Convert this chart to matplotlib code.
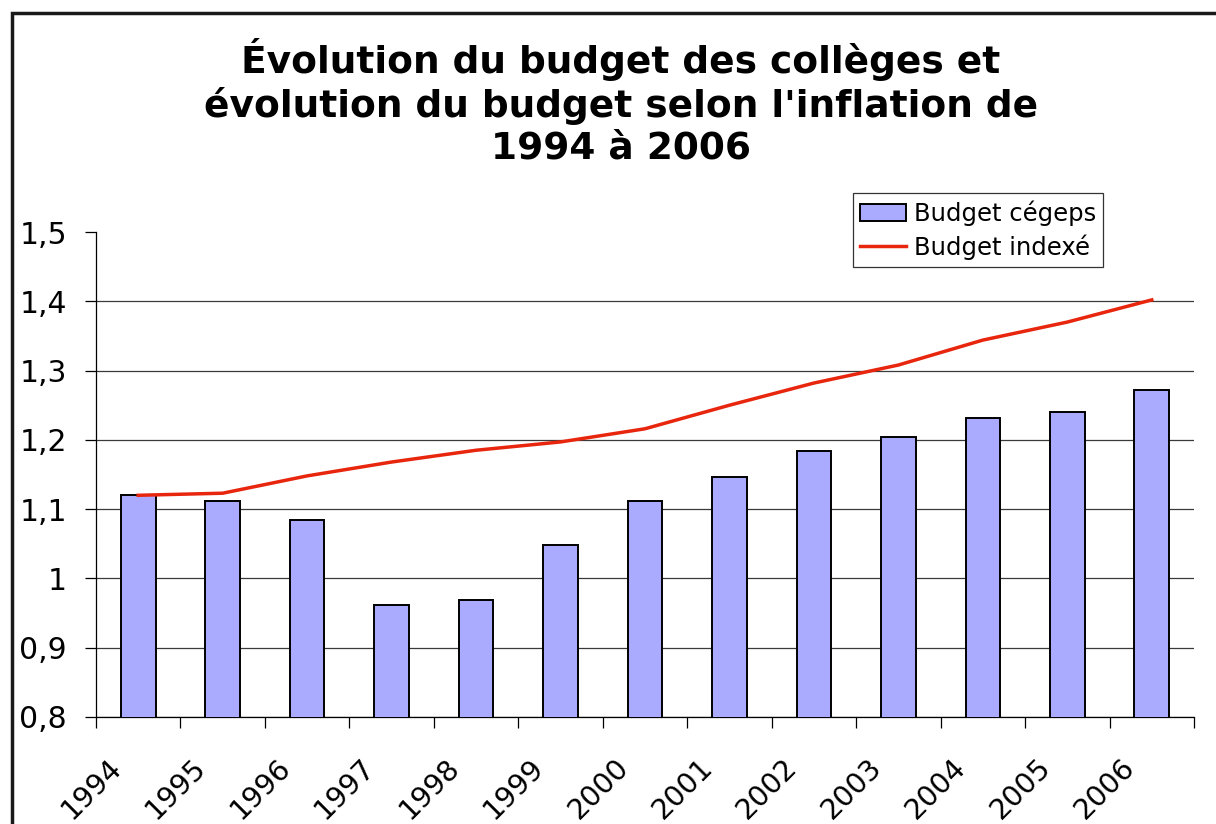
import matplotlib.pyplot as plt
import numpy as np
from matplotlib.ticker import FixedLocator, FuncFormatter
from matplotlib.patches import Rectangle
import matplotlib.transforms as mtransforms

years = ['1994', '1995', '1996', '1997', '1998', '1999', '2000',
         '2001', '2002', '2003', '2004', '2005', '2006']
budget_cegeps = [1.120, 1.112, 1.084, 0.962, 0.969, 1.048, 1.112,
                 1.146, 1.184, 1.204, 1.232, 1.240, 1.272]
budget_indexe = [1.120, 1.123, 1.148, 1.168, 1.185, 1.197, 1.216,
                 1.250, 1.282, 1.308, 1.344, 1.370, 1.402]
y_ticks = [0.8, 0.9, 1.0, 1.1, 1.2, 1.3, 1.4, 1.5]

plt.rcParams['font.family'] = 'DejaVu Sans'

fig = plt.figure(figsize=(12.16, 8.24), dpi=100)
ax = fig.add_axes([96/1216, 1 - 717/824, 1098/1216, 485/824])

# frame of the chart object (only top and left visible in the crop)
fig.patches.append(Rectangle((12/1216, -0.1), 1.2, 1 - 13/824 + 0.1,
                             transform=fig.transFigure, fill=False,
                             edgecolor='#1a1a1a', linewidth=2.5))

x = np.arange(len(years))
bars = ax.bar(x, budget_cegeps, width=0.41, bottom=0, color='#aaaaff',
              edgecolor='black', linewidth=1.4, label='Budget cégeps', zorder=3)
line, = ax.plot(x, budget_indexe, color='#e8260e', linewidth=2.5,
                label='Budget indexé', zorder=4)

ax.set_xlim(-0.5, len(years) - 0.5)
ax.set_ylim(0.8, 1.5)

ax.yaxis.set_major_locator(FixedLocator(y_ticks))
ax.yaxis.set_major_formatter(FuncFormatter(lambda v, p: f"{v:g}".replace('.', ',')))
ax.tick_params(axis='y', direction='out', length=8, width=0.9,
               labelsize=21.5, pad=13)
ax.grid(axis='y', color='#3a3a3a', linewidth=0.9, zorder=0)
ax.yaxis.get_gridlines()[-1].set_visible(False)

ax.set_xticks(x)
ax.set_xticklabels(years, rotation=45, ha='right', va='top')
ax.set_xticks(np.arange(len(years) + 1) - 0.5, minor=True)
ax.tick_params(axis='x', which='major', length=0, labelsize=20.5, pad=26)
ax.tick_params(axis='x', which='minor', direction='out', length=8, width=0.9)
offset = mtransforms.ScaledTranslation(-11/100, 0, fig.dpi_scale_trans)
for lbl in ax.get_xticklabels():
    lbl.set_transform(lbl.get_transform() + offset)

for side in ['top', 'right']:
    ax.spines[side].set_visible(False)
ax.spines['left'].set_linewidth(0.9)
ax.spines['bottom'].set_linewidth(0.9)

leg = ax.legend([bars, line], ['Budget cégeps', 'Budget indexé'],
                loc='upper left', bbox_to_anchor=((853-96)/1098, 1 + 39/485),
                fontsize=17.5, frameon=True, fancybox=False, framealpha=1,
                edgecolor='#333333', borderpad=0.3, handlelength=1.9,
                handletextpad=0.3, labelspacing=0.35, borderaxespad=0)
leg.get_frame().set_linewidth(0.9)

fig.text(621/1216, 1 - 38/824,
         "Évolution du budget des collèges et\n"
         "évolution du budget selon l'inflation de\n"
         "1994 à 2006",
         ha='center', va='top', fontsize=27, fontweight='bold',
         linespacing=1.2)

fig.savefig('out.png', dpi=100)
